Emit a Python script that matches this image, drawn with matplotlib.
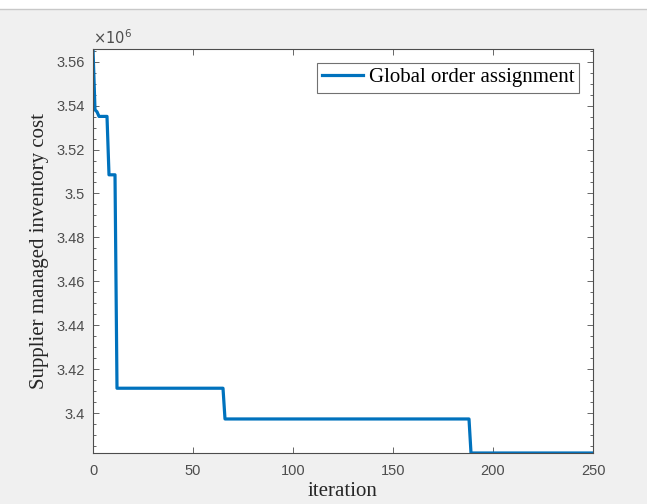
import matplotlib
matplotlib.use("Agg")
import matplotlib.pyplot as plt
from matplotlib.ticker import FuncFormatter, MultipleLocator
from matplotlib.lines import Line2D
from matplotlib.patches import Rectangle

# data: iteration breakpoints and best cost (x1e6)
iterations = [0, 1, 2, 3, 7, 8, 11, 12, 65, 66, 188, 189, 250]
cost = [3.5658, 3.5381, 3.5372, 3.5351, 3.5351, 3.5085, 3.5085,
        3.4113, 3.4113, 3.3973, 3.3973, 3.3818, 3.3818]
cost = [c * 1e6 for c in cost]
series_label = "Global order assignment"
xticks = [0, 50, 100, 150, 200, 250]
yticks = [3.40, 3.42, 3.44, 3.46, 3.48, 3.50, 3.52, 3.54, 3.56]

W, H = 647, 504
fig = plt.figure(figsize=(W / 100, H / 100), dpi=100, facecolor="#f0f0f0")
fig.patches.append(Rectangle((0, 1 - 9 / H), 1, 9 / H, transform=fig.transFigure,
                             facecolor="white", edgecolor="none", zorder=0))
fig.lines.append(Line2D([0, 1], [1 - 9 / H, 1 - 9 / H], transform=fig.transFigure,
                        color="#c8c8c8", lw=1))

left, right, top, bottom = 93, 593, 49, 453
ax = fig.add_axes([left / W, 1 - bottom / H, (right - left) / W, (bottom - top) / H])
ax.set_facecolor("white")
ax.plot(iterations, cost, color="#0072BD", lw=2.3, label=series_label)
ax.set_xlim(0, 250)
ax.set_ylim(min(cost), max(cost))
ax.set_xticks(xticks)
ax.set_yticks([v * 1e6 for v in yticks])
ax.yaxis.set_minor_locator(MultipleLocator(0.005e6))
ax.yaxis.set_major_formatter(FuncFormatter(lambda v, p: "%g" % round(v / 1e6, 4)))
ax.tick_params(which="both", direction="in", top=True, right=True,
               labelsize=10.5, colors="#4d4d4d", labelcolor="#4d4d4d", width=0.6)
ax.tick_params(which="major", length=4)
ax.tick_params(which="minor", length=2)
ax.tick_params(axis="x", pad=8)
ax.tick_params(axis="y", pad=6)
for lab in ax.get_xticklabels() + ax.get_yticklabels():
    lab.set_family("Liberation Sans")
for s in ax.spines.values():
    s.set_color("#4d4d4d")
    s.set_linewidth(0.8)
ax.set_xlabel("iteration", family="Liberation Serif", fontsize=15, color="#262626")
ax.xaxis.set_label_coords(0.5, (bottom - 492) / (bottom - top))
ax.xaxis.label.set_va("center")
ax.set_ylabel("Supplier managed inventory cost", family="Liberation Serif", fontsize=15,
              color="#262626")
ax.yaxis.set_label_coords((40 - left) / (right - left), 0.5)
ax.yaxis.label.set_va("center")
ax.text(0.0, 1.006, r"$\times10^{6}$", transform=ax.transAxes, ha="left", va="bottom",
        fontsize=10.5, color="#4d4d4d", family="Liberation Sans")
leg = ax.legend(loc="upper right", prop={"family": "Liberation Serif", "size": 15},
                frameon=True, fancybox=False, edgecolor="#4d4d4d", handlelength=2.0,
                borderaxespad=0.65, borderpad=0.25, handletextpad=0.25)
leg.get_frame().set_linewidth(0.8)
fig.savefig("out.png", dpi=100, facecolor=fig.get_facecolor())
